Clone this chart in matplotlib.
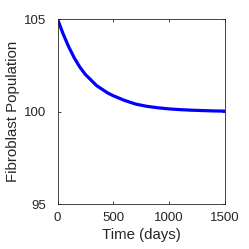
import matplotlib
matplotlib.use("Agg")
import matplotlib.pyplot as plt

time_days = [0, 50, 100, 150, 200, 250, 300, 350, 400, 450, 500, 600, 700, 800, 900, 1000, 1100, 1200, 1300, 1400, 1500]
fibroblast = [105, 104.2, 103.5, 102.9, 102.4, 102.0, 101.7, 101.4, 101.2, 101.0, 100.85, 100.6, 100.4, 100.28, 100.2, 100.14, 100.1, 100.07, 100.05, 100.03, 100.02]
xticks = [0, 500, 1000, 1500]
yticks = [95, 100, 105]

plt.rcParams['font.family'] = ['Liberation Sans', 'DejaVu Sans']
fig = plt.figure(figsize=(2.49, 2.49), dpi=100)
ax = fig.add_axes([57.5/249, 1-204/249, (225-57.5)/249, (204-19)/249])
ax.plot(time_days, fibroblast, color='#0000ff', linewidth=2.3, solid_capstyle='butt')
ax.set_xlim(0, 1500)
ax.set_ylim(95, 105)
ax.set_xticks(xticks)
ax.set_yticks(yticks)
ax.tick_params(direction='in', top=True, right=True, labelsize=9.5, length=2.5, width=0.6, colors='#262626', labelcolor='#262626')
ax.tick_params(axis='x', pad=6)
ax.tick_params(axis='y', pad=8)
for s in ax.spines.values():
    s.set_linewidth(0.6)
    s.set_color('#262626')
ax.set_xlabel('Time (days)', fontsize=10.8, color='#262626', labelpad=3)
ax.set_ylabel('Fibroblast Population', fontsize=10.8, color='#262626', labelpad=3)
fig.savefig('out.png', dpi=100)
